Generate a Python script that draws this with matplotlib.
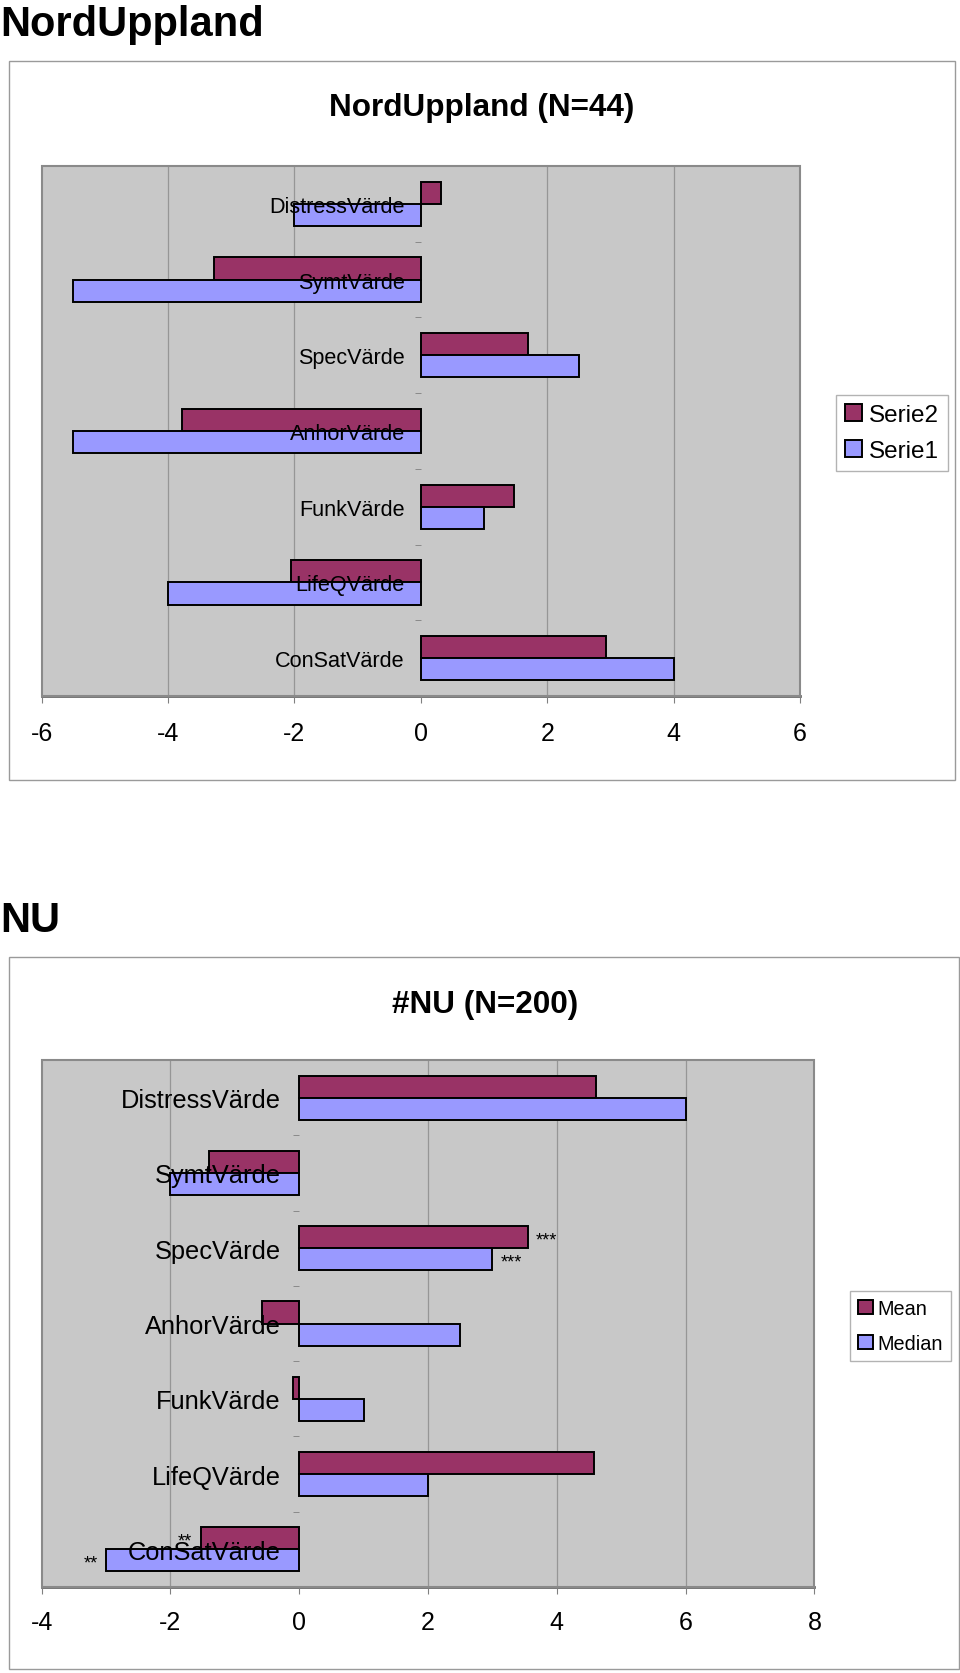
import numpy as np
import matplotlib
matplotlib.use('Agg')
import matplotlib.pyplot as plt
from matplotlib.patches import Rectangle

plt.rcParams['font.family'] = ['Liberation Sans', 'DejaVu Sans']

# Datos
categorias = ['DistressVärde', 'SymtVärde', 'SpecVärde', 'AnhorVärde',
              'FunkVärde', 'LifeQVärde', 'ConSatVärde']

# Grafico 1: NordUppland (N=44)
serie2 = [0.32, -3.27, 1.69, -3.78, 1.48, -2.05, 2.93]
serie1 = [-2.0, -5.5, 2.5, -5.5, 1.0, -4.0, 4.0]

# Grafico 2: #NU (N=200)
mean_nu = [4.61, -1.40, 3.55, -0.58, -0.09, 4.58, -1.53]
median_nu = [6.0, -2.0, 3.0, 2.5, 1.0, 2.0, -3.0]
marcas_mean = ['', '', '***', '', '', '', '**']
marcas_median = ['', '', '***', '', '', '', '**']

C_ROJO = '#993366'
C_AZUL = '#9999FF'
W, H = 960, 1674


def fx(px):
    return px / W


def fy(py):
    return 1 - py / H


def grafico(ax, top_vals, bot_vals, top_lab, bot_lab, xlim, cat_fs, cat_pad, tick_pad):
    y = np.arange(len(categorias))[::-1]
    h = 0.293
    b_top = ax.barh(y + h / 2, top_vals, height=h, color=C_ROJO, edgecolor='black',
                    linewidth=1.4, label=top_lab, zorder=2)
    b_bot = ax.barh(y - h / 2, bot_vals, height=h, color=C_AZUL, edgecolor='black',
                    linewidth=1.4, label=bot_lab, zorder=2)
    ax.set_axisbelow(False)  # etiquetas por encima de las barras
    ax.set_facecolor('#C8C8C8')
    ax.set_xlim(*xlim)
    ax.set_ylim(-0.5, len(categorias) - 0.5)
    xt = np.arange(xlim[0], xlim[1] + 1, 2)
    ax.set_xticks(xt)
    ax.set_xticklabels([str(v) for v in xt])
    for v in xt:
        if v != 0 and xlim[0] < v < xlim[1]:
            ax.axvline(v, color='#969696', lw=0.9, zorder=1)

    # eje vertical en cero
    ax.spines['left'].set_position(('data', 0))
    ax.spines['left'].set_color('none')
    ax.spines['right'].set_visible(False)
    ax.spines['top'].set_visible(False)
    ax.spines['bottom'].set_color('#6a6a6a')
    ax.spines['bottom'].set_linewidth(2)
    ax.set_yticks(y)
    ax.set_yticklabels(categorias)
    ax.set_yticks(np.arange(-0.5, len(categorias)), minor=True)
    ax.tick_params(axis='y', which='major', length=0, pad=cat_pad, labelsize=cat_fs)
    ax.tick_params(axis='y', which='minor', length=4, color='#808080', direction='out')
    ax.tick_params(axis='x', length=5, color='#808080', pad=tick_pad, labelsize=18)
    ax.add_patch(Rectangle((0, 0), 1, 1, transform=ax.transAxes, fill=False,
                           edgecolor='#8a8a8a', lw=1.5, zorder=5, clip_on=False))
    return b_top, b_bot


fig = plt.figure(figsize=(9.6, 16.74), dpi=100)

# --- Grafico 1 ---
fig.text(0, fy(36), 'NordUppland', fontsize=30, fontweight='bold', va='baseline', ha='left')
fig.add_artist(Rectangle((fx(9), fy(781)), fx(946), 719 / H, transform=fig.transFigure,
                         fill=False, edgecolor='#9a9a9a', lw=1))
fig.text(fx(482), fy(116), 'NordUppland (N=44)', fontsize=22.7, fontweight='bold',
         ha='center', va='baseline')
ax1 = fig.add_axes([fx(41.6), fy(697), fx(758.4), 530 / H])
grafico(ax1, serie2, serie1, 'Serie2', 'Serie1', (-6, 6), 15.6, 11.5, 13)
fig.legend(*ax1.get_legend_handles_labels(), loc='center', bbox_to_anchor=(fx(892), fy(434)),
           fontsize=17.5, frameon=True, fancybox=False, edgecolor='#a0a0a0',
           handlelength=0.7, handleheight=0.7, handletextpad=0.25, labelspacing=0.55,
           borderpad=0.4, borderaxespad=0)

# --- Grafico 2 ---
fig.text(0, fy(932), 'NU', fontsize=30, fontweight='bold', va='baseline', ha='left')
fig.add_artist(Rectangle((fx(9), fy(1670)), fx(950), 712 / H, transform=fig.transFigure,
                         fill=False, edgecolor='#9a9a9a', lw=1))
fig.text(fx(485), fy(1013), '#NU (N=200)', fontsize=22.7, fontweight='bold',
         ha='center', va='baseline')
ax2 = fig.add_axes([fx(41.6), fy(1588), fx(772.8), 527 / H])
bt, bb = grafico(ax2, mean_nu, median_nu, 'Mean', 'Median', (-4, 8), 18.3, 13.5, 11.5)
for barras, vals, marcas in [(bt, mean_nu, marcas_mean), (bb, median_nu, marcas_median)]:
    for rect, v, m in zip(barras, vals, marcas):
        if not m:
            continue
        yc = rect.get_y() + rect.get_height() / 2
        if v >= 0:
            ax2.annotate(m, (v, yc), xytext=(6, -2), textcoords='offset points',
                         ha='left', va='center', fontsize=13, zorder=6)
        else:
            ax2.annotate(m, (v, yc), xytext=(-6, -2), textcoords='offset points',
                         ha='right', va='center', fontsize=13, zorder=6)
fig.legend(*ax2.get_legend_handles_labels(), loc='center', bbox_to_anchor=(fx(900.5), fy(1327)),
           fontsize=14.3, frameon=True, fancybox=False, edgecolor='#a0a0a0',
           handlelength=0.75, handleheight=0.75, handletextpad=0.25, labelspacing=0.8,
           borderpad=0.4, borderaxespad=0)

fig.savefig('out.png', dpi=100)
